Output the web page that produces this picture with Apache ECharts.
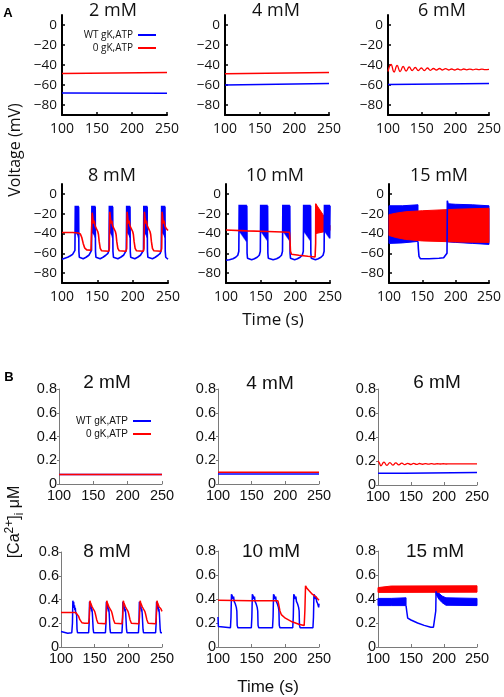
<!DOCTYPE html>
<html><head><meta charset="utf-8">
<script src="https://cdn.jsdelivr.net/npm/echarts@6/dist/echarts.min.js"></script>
<style>html,body{margin:0;padding:0;background:#fff}#c{width:504px;height:697px}</style>
</head><body><div id="c"></div>
<script>
// ---------- labels ----------
const seriesNames = ['WT gK,ATP', '0 gK,ATP'];
const panelTitles = ['2 mM', '4 mM', '6 mM', '8 mM', '10 mM', '15 mM'];
const xTicks = [100, 150, 200, 250];
const voltTicks = [-80, -60, -40, -20, 0];
const caTicks = [0, 0.2, 0.4, 0.6, 0.8];

// ---------- Panel A: voltage (mV) vs time (s) ----------
const v2_wt = [[100,-68],[250,-68.3]];
const v2_ko = [[100,-48.5],[250,-47.5]];
const v4_wt = [[100,-60],[250,-58.5]];
const v4_ko = [[100,-48.8],[250,-47.5]];
const v6_wt = [[100,-59.5],[250,-58.5]];
const v6_ko = [[100,-46.5],[104.5,-39.5],[109,-47],[113.5,-40.5],[118,-46.5],[122.5,-41.5],[127,-46],[131.5,-42],[136,-45.5],[140.5,-42.5],[145,-45.5],[149.5,-43],[154,-45.5],[158.5,-43],[163,-45.3],[167.5,-43.5],[172,-45],[176.5,-43.5],[181,-45],[185.5,-43.7],[190,-45],[194.5,-44],[199,-45],[203.5,-44],[208,-44.9],[212.5,-44],[217,-44.8],[221.5,-44.1],[226,-44.8],[230.5,-44.2],[235,-44.7],[239.5,-44.2],[244,-44.6],[250,-44.4]];
const v8_wt = [
 [100,-66],[104,-65],[108,-64],[112,-62.5],[115,-61],[117,-59.5],[118.3,-57],
 [118.8,-12],[119.2,-38],[119.6,-12],[120.0,-39],[120.4,-12],[120.8,-40],[121.2,-12],[121.6,-41],[122.0,-12],[122.4,-42],[122.8,-12],[123.2,-44],[123.5,-13],
 [123.9,-58],[124.5,-64],[125.5,-66],[130,-65.5],[134,-64],[138,-62],[140.5,-60],[141.8,-57],
 [142.3,-12],[142.7,-38],[143.1,-12],[143.5,-39],[143.9,-12],[144.3,-40],[144.7,-12],[145.1,-41],[145.5,-12],[145.9,-42],[146.3,-12],[146.7,-44],[147.0,-13],
 [147.4,-58],[148,-64],[149,-66],[154,-65.5],[158,-64],[162,-62],[165,-60],[166.5,-57],
 [167.0,-12],[167.4,-38],[167.8,-12],[168.2,-39],[168.6,-12],[169.0,-40],[169.4,-12],[169.8,-41],[170.2,-12],[170.6,-42],[171.0,-12],[171.4,-44],[171.7,-13],
 [172.1,-58],[172.8,-64],[174,-66],[179,-65.5],[183,-64],[187,-62],[189.5,-60],[191,-57],
 [191.5,-12],[191.9,-38],[192.3,-12],[192.7,-39],[193.1,-12],[193.5,-40],[193.9,-12],[194.3,-41],[194.7,-12],[195.1,-42],[195.5,-12],[195.9,-44],[196.2,-13],
 [196.6,-58],[197.2,-64],[198.5,-66],[203,-65.5],[207,-64],[211,-62],[213.5,-60],[215.3,-57],
 [215.8,-12],[216.2,-38],[216.6,-12],[217.0,-39],[217.4,-12],[217.8,-40],[218.2,-12],[218.6,-41],[219.0,-12],[219.4,-42],[219.8,-12],[220.2,-44],[220.5,-13],
 [220.9,-58],[221.5,-64],[223,-66],[228,-65.5],[232,-64],[236,-62],[239,-60],[240.5,-57],
 [241.0,-12],[241.4,-38],[241.8,-12],[242.2,-39],[242.6,-12],[243.0,-40],[243.4,-12],[243.8,-41],[244.2,-12],[244.6,-42],[245.0,-12],[245.4,-44],[245.7,-13],
 [246.1,-58],[246.8,-64],[248,-66],[250,-66]];
const v8_ko = [
 [100,-39],[115,-39],[123,-39.5],[126,-40.5],[128,-44],[130,-50],[132,-54.5],[135,-56.5],[141,-57],[142,-55],
 [142.7,-19],[143.6,-24],[144.6,-30],[145.6,-27],[146.6,-32],[147.6,-30],[148.6,-35],[149.6,-34],[150.6,-38],[151.6,-41],[152.6,-48],[154.1,-55],[156.1,-57.5],[166,-58],[167,-55],
 [167.6,-18],[168.5,-24],[169.5,-30],[170.5,-27],[171.5,-32],[172.5,-30],[173.5,-35],[174.5,-34],[175.5,-38],[176.5,-41],[177.5,-48],[179,-55],[181,-57.5],[190.5,-58],[191.5,-55],
 [192.1,-18],[193,-24],[194,-30],[195,-27],[196,-32],[197,-30],[198,-35],[199,-34],[200,-38],[201,-41],[202,-48],[203.5,-55],[205.5,-57.5],[215,-58],[216,-55],
 [216.6,-18],[217.5,-24],[218.5,-30],[219.5,-27],[220.5,-32],[221.5,-30],[222.5,-35],[223.5,-34],[224.5,-38],[225.5,-41],[226.5,-48],[228,-55],[230,-57.5],[240,-58],[241,-55],
 [241.6,-18],[242.5,-24],[243.5,-30],[244.5,-27],[245.5,-32],[246.5,-30],[247.5,-35],[248.5,-34],[250,-37]];
const v10_wt = [
 [100,-67],[105,-66.5],[110,-65.5],[114,-64],[117,-62],[118.5,-58],
 [119,-11],[119.5,-38],[120,-11],[120.5,-39],[121,-11],[121.5,-40],[122,-11],[122.5,-41],[123,-11],[123.5,-42],[124,-11],[124.5,-43],[125,-11],[125.5,-44],[126,-11],[126.5,-45],[127,-11],[127.5,-46],[128,-11],[128.5,-47],[129,-11],[129.5,-48],[130,-12],
 [130.4,-60],[131,-65],[132.5,-67],[137,-66.5],[141,-65.5],[145,-64],[148,-62],[149.5,-58],
 [150,-11],[150.5,-38],[151,-11],[151.5,-39],[152,-11],[152.5,-40],[153,-11],[153.5,-41],[154,-11],[154.5,-42],[155,-11],[155.5,-43],[156,-11],[156.5,-44],[157,-11],[157.5,-45],[158,-11],[158.5,-46],[159,-11],[159.5,-47],[160,-12],
 [160.4,-60],[161,-65],[162.5,-67],[168,-66.5],[173,-65.5],[177,-64],[180,-62],[181.5,-58],
 [182,-11],[182.5,-38],[183,-11],[183.5,-39],[184,-11],[184.5,-40],[185,-11],[185.5,-41],[186,-11],[186.5,-42],[187,-11],[187.5,-43],[188,-11],[188.5,-44],[189,-11],[189.5,-45],[190,-11],[190.5,-46],[191,-11],[191.5,-47],[192,-12],
 [192.4,-60],[193,-65],[194.5,-67],[199,-66.5],[203,-65.5],[207,-64],[210,-62],[211.5,-58],
 [212,-11],[212.5,-38],[213,-11],[213.5,-39],[214,-11],[214.5,-40],[215,-11],[215.5,-41],[216,-11],[216.5,-42],[217,-11],[217.5,-43],[218,-11],[218.5,-44],[219,-11],[219.5,-45],[220,-11],[220.5,-46],[221,-11],[221.5,-47],[222,-12],
 [222.4,-60],[223,-65],[224.5,-67],[229,-66.5],[233,-65.5],[237,-64],[240,-62],[241.5,-58],
 [242,-11],[242.5,-38],[243,-11],[243.5,-39],[244,-11],[244.5,-40],[245,-11],[245.5,-41],[246,-11],[246.5,-42],[247,-11],[247.5,-43],[248,-11],[248.5,-44],[249,-11],[249.5,-45],[250,-12]];
const v10_ko = [[100,-36.5],[130,-37.3],[160,-38],[191.5,-38.7],[192.2,-45],[193,-58],[194.5,-61],[205,-62],[218,-63],[228.5,-63.7],[229.3,-50],[229.5,-10]];
const v10_ko_bandUpper = [[229.5,-10],[240,-21],[250,-32]];
const v10_ko_bandLower = [[229.5,-40],[240,-38.5],[250,-37]];
const v15_wt_band1Upper = [[100,-12],[120,-12],[143.5,-11]];
const v15_wt_band1Lower = [[100,-50],[120,-49.5],[143.5,-48]];
const v15_wt = [[143.5,-48],[144,-55],[145,-63],[147,-65.5],[160,-65.5],[175,-65],[182,-64.5],[185,-63],[187,-60],[187.6,-7]];
const v15_wt_band2Upper = [[187.6,-7],[189,-10],[200,-10.5],[225,-11],[250,-12]];
const v15_wt_band2Lower = [[187.6,-48],[189,-48.5],[200,-49],[225,-50],[250,-51]];
const v15_ko_bandUpper = [[100,-21],[110,-19.5],[125,-18],[150,-17],[200,-15.5],[250,-14.5]];
const v15_ko_bandLower = [[100,-42],[110,-44],[125,-46],[150,-47.5],[200,-48.5],[250,-49]];

// ---------- Panel B: [Ca2+]i (uM) vs time (s) ----------
const c2_wt = [[100,0.08],[250,0.08]];
const c2_ko = [[100,0.08],[250,0.08]];
const c4_wt = [[100,0.085],[250,0.085]];
const c4_ko = [[100,0.1],[250,0.1]];
const c6_wt = [[100,0.098],[140,0.098],[141,0.104],[250,0.104]];
const c6_ko = [[100,0.2],[102,0.185],[104.5,0.16],[109,0.19],[113.5,0.163],[118,0.187],[122.5,0.166],[127,0.184],[131.5,0.168],[136,0.182],[140.5,0.17],[145,0.181],[149.5,0.171],[154,0.18],[158.5,0.172],[163,0.179],[167.5,0.173],[172,0.178],[176.5,0.174],[181,0.178],[185.5,0.174],[190,0.177],[194.5,0.175],[199,0.177],[203.5,0.175],[208,0.176],[215,0.176],[250,0.176]];
const c8_wt = [
 [100,0.13],[101,0.12],[110,0.115],[116,0.12],[117,0.2],[117.6,0.39],[118.2,0.36],[118.8,0.38],[119.4,0.33],[120,0.35],[120.6,0.31],[121.2,0.33],[121.8,0.29],[122.4,0.3],[123.2,0.27],[123.8,0.15],[124.5,0.12],
 [141,0.12],[141.8,0.2],[142.4,0.38],[143,0.35],[143.6,0.37],[144.2,0.32],[144.8,0.34],[145.4,0.3],[146,0.32],[146.6,0.28],[147.2,0.27],[147.8,0.15],[148.5,0.12],
 [166,0.12],[166.8,0.2],[167.4,0.38],[168,0.35],[168.6,0.37],[169.2,0.32],[169.8,0.34],[170.4,0.3],[171,0.32],[171.6,0.28],[172.2,0.27],[172.8,0.15],[173.5,0.12],
 [190.5,0.12],[191.3,0.2],[191.9,0.38],[192.5,0.35],[193.1,0.37],[193.7,0.32],[194.3,0.34],[194.9,0.3],[195.5,0.32],[196.1,0.28],[196.7,0.27],[197.3,0.15],[198,0.12],
 [215,0.12],[215.8,0.2],[216.4,0.38],[217,0.35],[217.6,0.37],[218.2,0.32],[218.8,0.34],[219.4,0.3],[220,0.32],[220.6,0.28],[221.2,0.27],[221.8,0.15],[222.5,0.12],
 [240.5,0.12],[241.3,0.2],[241.9,0.38],[242.5,0.35],[243.1,0.37],[243.7,0.32],[244.3,0.34],[244.9,0.3],[245.5,0.32],[246.1,0.28],[246.7,0.27],[247.3,0.15],[248,0.12],[250,0.12]];
const c8_ko = [
 [100,0.29],[122,0.29],[124,0.285],[126,0.26],[128,0.23],[131,0.205],[135,0.2],[141,0.2],[142,0.25],
 [143,0.39],[144,0.37],[145,0.36],[146,0.34],[147,0.35],[148,0.32],[149,0.31],[150,0.3],[151,0.28],[152,0.27],[153,0.23],[155,0.2],[166,0.195],[167,0.25],
 [168,0.39],[169,0.37],[170,0.36],[171,0.34],[172,0.35],[173,0.32],[174,0.31],[175,0.3],[176,0.28],[177,0.27],[178,0.23],[180,0.2],[190.5,0.195],[191.5,0.25],
 [192.5,0.39],[193.5,0.37],[194.5,0.36],[195.5,0.34],[196.5,0.35],[197.5,0.32],[198.5,0.31],[199.5,0.3],[200.5,0.28],[201.5,0.27],[202.5,0.23],[204.5,0.2],[215.5,0.195],[216.5,0.25],
 [217.5,0.39],[218.5,0.37],[219.5,0.36],[220.5,0.34],[221.5,0.35],[222.5,0.32],[223.5,0.31],[224.5,0.3],[225.5,0.28],[226.5,0.27],[227.5,0.23],[229.5,0.2],[240.5,0.195],[241.5,0.25],
 [242.5,0.39],[243.5,0.37],[244.5,0.36],[245.5,0.34],[246.5,0.35],[247.5,0.33],[248.5,0.32],[250,0.3]];
const c10_wt = [
 [100,0.25],[100.6,0.17],[102,0.16],[118.5,0.16],[119.3,0.25],[120,0.44],[120.8,0.455],[121.6,0.42],[122.4,0.4],[123.2,0.42],[124,0.38],[124.8,0.39],[125.6,0.36],[126.4,0.35],[127.2,0.33],[128,0.3],[128.5,0.18],[129.5,0.16],
 [149.5,0.16],[150.3,0.25],[151,0.44],[151.8,0.455],[152.6,0.42],[153.4,0.4],[154.2,0.42],[155,0.38],[155.8,0.39],[156.6,0.36],[157.4,0.35],[158.2,0.33],[159,0.3],[159.5,0.18],[160.5,0.16],
 [181,0.16],[181.8,0.25],[182.5,0.44],[183.3,0.455],[184.1,0.42],[184.9,0.4],[185.7,0.42],[186.5,0.38],[187.3,0.39],[188.1,0.36],[188.9,0.35],[189.7,0.33],[190.5,0.3],[191,0.18],[192,0.16],
 [211,0.16],[211.8,0.25],[212.5,0.44],[213.3,0.455],[214.1,0.42],[214.9,0.4],[215.7,0.42],[216.5,0.38],[217.3,0.39],[218.1,0.36],[218.9,0.35],[219.7,0.33],[220.5,0.3],[221,0.18],[222,0.16],
 [241,0.16],[241.8,0.25],[242.5,0.44],[243.3,0.455],[244.1,0.42],[244.9,0.4],[245.7,0.42],[246.5,0.38],[247.3,0.39],[248.1,0.36],[248.9,0.35],[249.5,0.33],[250,0.36]];
const c10_ko = [[100,0.39],[150,0.386],[189,0.385],[190,0.36],[192,0.3],[194,0.27],[200,0.24],[210,0.21],[220,0.19],[228,0.18],[229,0.3],[230,0.51],[232,0.49],[235,0.47],[240,0.44],[245,0.42],[250,0.39]];
const c15_wt_band1Upper = [[100,0.405],[120,0.405],[142.5,0.41]];
const c15_wt_band1Lower = [[100,0.345],[120,0.345],[142.5,0.345]];
const c15_wt = [[142.5,0.345],[143.5,0.3],[145,0.24],[150,0.225],[160,0.2],[170,0.18],[180,0.165],[184,0.165],[186.5,0.175],[187.5,0.3],[188,0.465]];
const c15_wt_band2Upper = [[188,0.468],[192,0.45],[197,0.425],[203,0.41],[250,0.405]];
const c15_wt_band2Lower = [[188,0.44],[192,0.4],[197,0.37],[203,0.348],[250,0.345]];
const c15_ko_bandUpper = [[100,0.495],[120,0.508],[250,0.51]];
const c15_ko_bandLower = [[100,0.455],[250,0.457]];

// ---------- layout ----------
const BLUE = '#0000ff', RED = '#ff0000';
const FA = 'Open Sans', FB = 'Liberation Sans';
const gridsA = [
  {left:62, top:15, width:105, height:100},
  {left:225, top:15, width:104, height:100},
  {left:388, top:15, width:105, height:100},
  {left:62, top:184, width:106, height:99},
  {left:226, top:184, width:104, height:99},
  {left:389, top:184, width:105, height:99}];
const gridsB = [
  {left:59, top:389, width:103, height:95},
  {left:218, top:389, width:101, height:95},
  {left:378, top:389, width:99, height:96},
  {left:61, top:552, width:101, height:95},
  {left:218, top:551, width:101, height:96},
  {left:378, top:551, width:99, height:96}];

const grid = [], xAxis = [], yAxis = [], series = [];
function minusFmt(v){ return v < 0 ? '\u2212' + Math.abs(v) : String(v); }

gridsA.forEach((g, i) => {
  grid.push(Object.assign({containLabel:false}, g));
  xAxis.push({type:'value', gridIndex:i, min:100, max:250, interval:50,
    axisLine:{show:true, onZero:false, lineStyle:{color:'#000', width:2}},
    axisTick:{show:true, inside:true, length:3, lineStyle:{color:'#000', width:1.5}},
    axisLabel:{fontFamily:FA, fontSize:14, color:'#111', margin:7, customValues:xTicks},
    splitLine:{show:false}});
  yAxis.push({type:'value', gridIndex:i, min:-90, max:10,
    axisLine:{show:true, onZero:false, lineStyle:{color:'#000', width:2}},
    axisTick:{show:true, inside:true, length:3, customValues:voltTicks, lineStyle:{color:'#000', width:1.5}},
    axisLabel:{fontFamily:FA, fontSize:13.5, color:'#111', margin:5, customValues:voltTicks, formatter:minusFmt},
    splitLine:{show:false}});
});
gridsB.forEach((g, j) => {
  const i = j + 6;
  grid.push(Object.assign({containLabel:false}, g));
  xAxis.push({type:'value', gridIndex:i, min:100, max:250, interval:50,
    axisLine:{show:true, onZero:false, lineStyle:{color:'#7a7a7a', width:1}},
    axisTick:{show:true, inside:true, length:3, lineStyle:{color:'#7a7a7a'}},
    axisLabel:{fontFamily:FB, fontSize:14.5, color:'#111', margin:4, customValues:xTicks},
    splitLine:{show:false}});
  yAxis.push({type:'value', gridIndex:i, min:0, max:0.8,
    axisLine:{show:true, onZero:false, lineStyle:{color:'#7a7a7a', width:1}},
    axisTick:{show:true, inside:false, length:2, customValues:caTicks, lineStyle:{color:'#7a7a7a'}},
    axisLabel:{fontFamily:FB, fontSize:14.5, color:'#111', margin:2, customValues:caTicks, formatter:v => v === 0 ? '0' : v.toFixed(1)},
    splitLine:{show:false}});
});

function lineS(name, color, data, gi, w, smooth){
  return {type:'line', name, xAxisIndex:gi, yAxisIndex:gi, data, showSymbol:false, symbol:'none',
    smooth: !!smooth, lineStyle:{color, width:w}, itemStyle:{color}, animation:false, silent:true, clip:true};
}
function bandS(name, color, upper, lower, gi){
  return {type:'custom', name, xAxisIndex:gi, yAxisIndex:gi, data:[upper[0]], silent:true, animation:false,
    itemStyle:{color},
    renderItem: function(params, api){
      const pts = upper.map(p => api.coord(p)).concat(lower.slice().reverse().map(p => api.coord(p)));
      return {type:'polygon', shape:{points:pts}, style:{fill:color, stroke:color, lineWidth:1}};
    }};
}
const [WT, KO] = seriesNames;
const LWA = 1.6, LWB = 1.5;
// A
series.push(lineS(WT, BLUE, v2_wt, 0, LWA), lineS(KO, RED, v2_ko, 0, LWA));
series.push(lineS(WT, BLUE, v4_wt, 1, LWA), lineS(KO, RED, v4_ko, 1, LWA));
series.push(lineS(WT, BLUE, v6_wt, 2, LWA), lineS(KO, RED, v6_ko, 2, 1.3, true));
series.push(lineS(WT, BLUE, v8_wt, 3, LWA), lineS(KO, RED, v8_ko, 3, LWA));
series.push(lineS(WT, BLUE, v10_wt, 4, LWA), lineS(KO, RED, v10_ko, 4, LWA));
series.push(lineS(WT, BLUE, v15_wt, 5, LWA));
// B
series.push(lineS(WT, BLUE, c2_wt, 6, LWB), lineS(KO, RED, c2_ko, 6, LWB));
series.push(lineS(WT, BLUE, c4_wt, 7, LWB), lineS(KO, RED, c4_ko, 7, LWB));
series.push(lineS(WT, BLUE, c6_wt, 8, LWB), lineS(KO, RED, c6_ko, 8, 1.3, true));
series.push(lineS(WT, BLUE, c8_wt, 9, LWB), lineS(KO, RED, c8_ko, 9, LWB));
series.push(lineS(WT, BLUE, c10_wt, 10, LWB), lineS(KO, RED, c10_ko, 10, LWB));
series.push(lineS(WT, BLUE, c15_wt, 11, LWB));
// bands (dense fast oscillations)
series.push(bandS(KO, RED, v10_ko_bandUpper, v10_ko_bandLower, 4));
series.push(bandS(WT, BLUE, v15_wt_band1Upper, v15_wt_band1Lower, 5));
series.push(bandS(WT, BLUE, v15_wt_band2Upper, v15_wt_band2Lower, 5));
series.push(bandS(KO, RED, v15_ko_bandUpper, v15_ko_bandLower, 5));
series.push(bandS(WT, BLUE, c15_wt_band1Upper, c15_wt_band1Lower, 11));
series.push(bandS(WT, BLUE, c15_wt_band2Upper, c15_wt_band2Lower, 11));
series.push(bandS(KO, RED, c15_ko_bandUpper, c15_ko_bandLower, 11));

const legendBase = {data:seriesNames, orient:'vertical', align:'right', icon:'rect', itemWidth:18, itemHeight:2,
  itemGap:3, padding:0, selectedMode:false};
const legend = [
  Object.assign({}, legendBase, {right:504-156, top:30, textStyle:{fontFamily:FA, fontSize:10, color:'#111'}}),
  Object.assign({}, legendBase, {right:504-151, top:416, textStyle:{fontFamily:FB, fontSize:10, color:'#111'}})];

// titles
const titlePosA = [[113,11],[276,11],[442,11],[112,176],[275,176],[439,176]];
const titlePosB = [[107,383],[270,384],[437,383],[107,552],[271,552],[435,552]];
const graphic = [];
titlePosA.forEach((p, k) => graphic.push({type:'text', x:p[0], y:p[1], silent:true,
  style:{text:panelTitles[k], align:'center', verticalAlign:'middle', font:'18px "Open Sans"', fill:'#111'}}));
titlePosB.forEach((p, k) => graphic.push({type:'text', x:p[0], y:p[1], silent:true,
  style:{text:panelTitles[k], align:'center', verticalAlign:'middle', font:'19px "Liberation Sans"', fill:'#111'}}));
graphic.push(
  {type:'text', x:8, y:13, style:{text:'A', align:'center', verticalAlign:'middle', font:'bold 13px "Liberation Sans"', fill:'#000'}},
  {type:'text', x:9, y:377, style:{text:'B', align:'center', verticalAlign:'middle', font:'bold 13px "Liberation Sans"', fill:'#000'}},
  {type:'text', x:15, y:150, rotation:Math.PI/2, style:{text:'Voltage (mV)', align:'center', verticalAlign:'middle', font:'16px "Open Sans"', fill:'#111'}},
  {type:'text', x:273, y:320, style:{text:'Time (s)', align:'center', verticalAlign:'middle', font:'17px "Open Sans"', fill:'#111'}},
  {type:'text', x:268, y:687, style:{text:'Time (s)', align:'center', verticalAlign:'middle', font:'17px "Liberation Sans"', fill:'#111'}},
  {type:'text', x:15, y:522, rotation:Math.PI/2, style:{
    text:'{n|[Ca}{sup|2+}{n|]}{sub|i}{n| \u03bcM}', align:'center', verticalAlign:'middle', fill:'#111',
    rich:{n:{fontFamily:FB, fontSize:16, lineHeight:22, verticalAlign:'middle'},
          sup:{fontFamily:FB, fontSize:12, verticalAlign:'top', lineHeight:22},
          sub:{fontFamily:FB, fontSize:12, verticalAlign:'bottom', lineHeight:22}}}}
);

const chart = echarts.init(document.getElementById('c'), null, {renderer:'canvas'});
chart.setOption({animation:false, backgroundColor:'#fff', grid, xAxis, yAxis, series, legend, graphic});
</script></body></html>
